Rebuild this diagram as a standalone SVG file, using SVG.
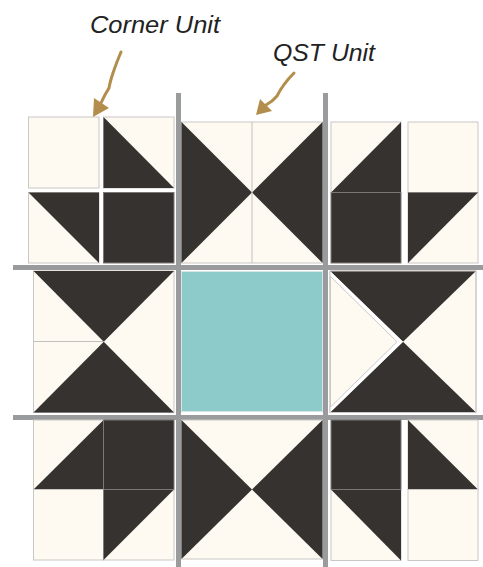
<svg xmlns="http://www.w3.org/2000/svg" width="483" height="567" viewBox="0 0 483 567">
<style>
.c{fill:#fefaf2;stroke:#c9c8c6;stroke-width:1}
.d{fill:#363230}
.ds{fill:#363230;stroke:#7a7876;stroke-width:1}
.bar{fill:#9a9b9d}
.ln{stroke:#c2c1bf;stroke-width:1}
.lbl{font-family:"Liberation Sans",Arial,sans-serif;font-style:italic;font-size:24px;fill:#222}
.arr{fill:none;stroke:#b38d4c;stroke-width:3;stroke-linecap:round;stroke-linejoin:round}
.ah{fill:#b38d4c}
</style>
<rect width="483" height="567" fill="#ffffff"/>
<g id="grid">
<rect class="bar" x="176" y="93" width="5" height="474"/>
<rect class="bar" x="323" y="93" width="5" height="474"/>
<rect class="bar" x="13" y="265" width="470" height="5"/>
<rect class="bar" x="13" y="415" width="470" height="5"/>
</g>
<g id="corner-tl">
<rect class="c" x="28.5" y="117" width="70.5" height="71"/>
<rect class="c" x="103.5" y="117" width="70.5" height="71"/>
<polygon class="d" points="103.5,117 103.5,188 174,188"/>
<rect class="c" x="28.5" y="192.5" width="70.5" height="70.5"/>
<polygon class="d" points="28.5,192.5 99,192.5 99,263"/>
<rect class="ds" x="103.5" y="192.5" width="70.5" height="70.5"/>
</g>
<g id="qst-top">
<rect class="c" x="181.5" y="122" width="141" height="141"/>
<polygon class="d" points="181.5,122 252,192.5 181.5,263"/>
<polygon class="d" points="322.5,122 252,192.5 322.5,263"/>
<line class="ln" x1="252" y1="122" x2="252" y2="263"/>
</g>
<g id="corner-tr">
<rect class="c" x="331" y="122" width="70" height="70.5"/>
<polygon class="d" points="331,192.5 401,122 401,192.5"/>
<rect class="ds" x="331" y="192.5" width="70" height="70.5"/>
<rect class="c" x="408" y="122" width="70" height="70.5"/>
<rect class="c" x="408" y="192.5" width="70" height="70.5"/>
<polygon class="d" points="408,192.5 478,192.5 408,263"/>
</g>
<g id="qst-left">
<rect class="c" x="33.5" y="271" width="140.5" height="141.5"/>
<polygon class="d" points="33.5,271 174,271 103.75,341.75"/>
<polygon class="d" points="33.5,412.5 174,412.5 103.75,341.75"/>
<line class="ln" x1="33.5" y1="341.5" x2="103.5" y2="341.5"/>
</g>
<g id="center">
<rect x="181.5" y="271.5" width="141" height="140" fill="#8ccbca" stroke="#d6e6e4" stroke-width="1"/>
</g>
<g id="qst-right">
<rect class="c" x="330" y="271" width="146" height="141.5"/>
<polygon class="d" points="330,271 476,271 403,341.75"/>
<polygon class="d" points="330,412.5 476,412.5 403,341.75"/>
<polygon fill="#ffffff" points="330,271 403,341.75 330,412.5"/>
<polygon fill="#fefaf2" stroke="#bdbcba" stroke-width="0.8" points="330.5,276.5 397,341.75 330.5,407"/>
<rect x="330" y="271" width="146" height="141.5" fill="none" stroke="#c9c8c6" stroke-width="1"/>
</g>
<g id="corner-bl">
<rect class="c" x="33.5" y="420" width="70" height="69.5"/>
<polygon class="d" points="33.5,489.5 103.5,420 103.5,489.5"/>
<rect class="ds" x="103.5" y="420" width="70.5" height="69.5"/>
<rect class="c" x="33.5" y="489.5" width="70" height="70.5"/>
<rect class="c" x="103.5" y="489.5" width="70.5" height="70.5"/>
<polygon class="d" points="103.5,489.5 174,489.5 103.5,560"/>
<line x1="103.5" y1="489.5" x2="174" y2="489.5" stroke="#7a7876" stroke-width="1"/>
</g>
<g id="qst-bottom">
<rect class="c" x="181.5" y="420" width="141" height="139"/>
<polygon class="d" points="181.5,420 252,489.5 181.5,559"/>
<polygon class="d" points="322.5,420 252,489.5 322.5,559"/>
</g>
<g id="corner-br">
<rect class="ds" x="331" y="420" width="70" height="69.5"/>
<rect class="c" x="331" y="489.5" width="70" height="71"/>
<polygon class="d" points="331,489.5 401,489.5 401,560.5"/>
<line x1="331" y1="489.5" x2="401" y2="489.5" stroke="#7a7876" stroke-width="1"/>
<rect class="c" x="408" y="420" width="70" height="69.5"/>
<polygon class="d" points="408,420 408,489.5 478,489.5"/>
<rect class="c" x="408" y="489.5" width="70" height="71"/>
</g>
<g id="label-corner">
<text class="lbl" x="90" y="33" textLength="130" lengthAdjust="spacingAndGlyphs">Corner Unit</text>
</g>
<g id="label-qst">
<text class="lbl" x="273" y="61" textLength="102" lengthAdjust="spacingAndGlyphs">QST Unit</text>
</g>
<g id="connectors">
<path class="arr" d="M121,52 Q116,64 113,73 Q110,82 109,88 Q104,96 101,103"/>
<polygon class="ah" points="93,117 94,98 109,108"/>
<path class="arr" d="M294,73 Q283,84 277,96 Q272,102 266,105"/>
<polygon class="ah" points="256,115 260,99 272,111"/>
</g>
</svg>
